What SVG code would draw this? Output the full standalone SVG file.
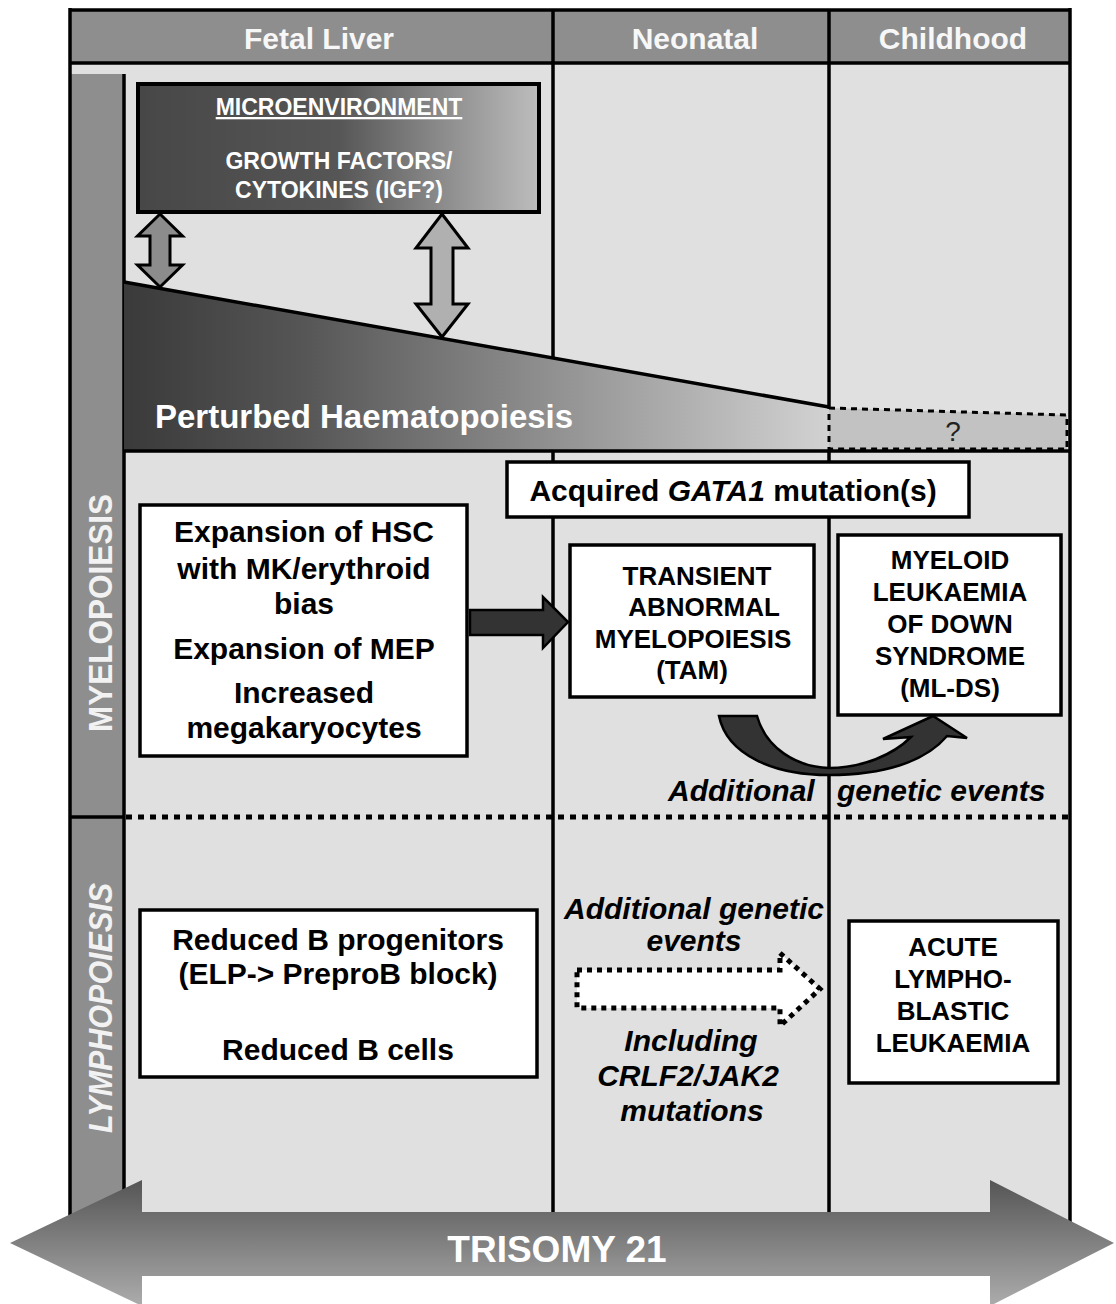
<svg xmlns="http://www.w3.org/2000/svg" width="1116" height="1304" viewBox="0 0 1116 1304">
<defs>
<linearGradient id="microGrad" gradientUnits="userSpaceOnUse" x1="138" y1="0" x2="539" y2="0">
<stop offset="0" stop-color="#474747"/><stop offset="0.5" stop-color="#565656"/><stop offset="1" stop-color="#bdbdbd"/>
</linearGradient>
<linearGradient id="triGrad" gradientUnits="userSpaceOnUse" x1="124" y1="0" x2="829" y2="0">
<stop offset="0" stop-color="#3a3a3a"/><stop offset="0.25" stop-color="#555555"/><stop offset="1" stop-color="#d2d2d2"/>
</linearGradient>
<linearGradient id="arrowGrad" gradientUnits="userSpaceOnUse" x1="0" y1="1180" x2="0" y2="1304">
<stop offset="0" stop-color="#555555"/><stop offset="1" stop-color="#ababab"/>
</linearGradient>
</defs>
<style>
text{font-family:"Liberation Sans",Arial,sans-serif;font-weight:bold}
.hdr{font-size:30px;fill:#f7f7f7;text-anchor:middle}
.side{font-size:33px;fill:#f2f2f2;text-anchor:middle}
.box{fill:#ffffff;stroke:#000;stroke-width:3.5}
.t30{font-size:30px;fill:#000;text-anchor:middle}
.t26{font-size:26px;fill:#000;text-anchor:middle}
.it{font-style:italic}
.wht{fill:#ffffff}
.grid{stroke:#000;stroke-width:3.5;fill:none}
.dark{fill:#333333;stroke:#000;stroke-width:2.5;stroke-linejoin:miter}
.dbl{stroke:#000;stroke-width:3;stroke-linejoin:miter}
</style>
<rect width="1116" height="1304" fill="#ffffff"/>
<g id="background">
<rect x="70" y="10" width="1000" height="53" fill="#8e8e8e"/>
<rect x="70" y="63" width="1000" height="1197" fill="#e0e0e0"/>
<rect x="70" y="74" width="54" height="1186" fill="#8e8e8e"/>
</g>
<g id="grid">
<line class="grid" x1="70" y1="10" x2="1070" y2="10"/>
<line class="grid" x1="70" y1="63" x2="1070" y2="63"/>
<line class="grid" x1="70" y1="8" x2="70" y2="1260"/>
<line class="grid" x1="1070" y1="8" x2="1070" y2="1260"/>
<line class="grid" x1="124" y1="74" x2="124" y2="1260"/>
<line class="grid" x1="553" y1="10" x2="553" y2="1260"/>
<line class="grid" x1="829" y1="10" x2="829" y2="1260"/>
<line class="grid" x1="70" y1="817" x2="124" y2="817"/>
<line x1="126" y1="817" x2="1070" y2="817" stroke="#000" stroke-width="5" stroke-dasharray="6 6"/>
</g>
<g id="perturbed">
<polygon points="124,282 829,407 829,451 124,451" fill="url(#triGrad)"/>
<line class="grid" x1="124" y1="282" x2="829" y2="407"/>
<polygon points="829,408 1067,415 1067,449 829,449" fill="#c2c2c2" stroke="#000" stroke-width="3" stroke-dasharray="6 5"/>
<text x="953" y="441" font-size="28" style="font-weight:normal" fill="#222" text-anchor="middle">?</text>
<line class="grid" x1="124" y1="451" x2="1070" y2="451"/>
<text x="155" y="428" font-size="33" class="wht">Perturbed Haematopoiesis</text>
</g>
<g id="connectors">
<polygon class="dbl" fill="#8c8c8c" points="160,214 182.5,236 170,236 170,265 182.5,265 160,287 137.5,265 150,265 150,236 137.5,236"/>
<polygon class="dbl" fill="#b0b0b0" points="442,214 468,248 453,248 453,304 468,304 442,337 416,304 431,304 431,248 416,248"/>
<polygon class="dark" points="470,610 543,610 543,597 568,622 543,648 543,635 470,635"/>
<path class="dark" d="M719,716 L757,716 C766,748 796,767 829,768 C862,768 893,755 911,737 L883,739 L933,716 L967,738 L947,736 C925,762 883,775 829,775 C774,775 727,755 719,716 Z"/>
<polygon points="577,970 780,970 780,953 820,989 780,1026 780,1008 577,1008" fill="#ffffff" stroke="#000" stroke-width="5" stroke-dasharray="5 5"/>
</g>
<g id="headers">
<text class="hdr" x="319" y="49">Fetal Liver</text>
<text class="hdr" x="695" y="49">Neonatal</text>
<text class="hdr" x="953" y="49">Childhood</text>
</g>
<g id="myelopoiesis-label">
<text class="side" transform="translate(112,613) rotate(-90)" textLength="238" lengthAdjust="spacingAndGlyphs">MYELOPOIESIS</text>
</g>
<g id="lymphopoiesis-label">
<text class="side it" transform="translate(112,1008) rotate(-90)" textLength="250" lengthAdjust="spacingAndGlyphs">LYMPHOPOIESIS</text>
</g>
<g id="microenvironment">
<rect x="138" y="84" width="401" height="128" fill="url(#microGrad)" stroke="#000" stroke-width="4"/>
<text x="339" y="115" font-size="23" class="wht" text-anchor="middle" text-decoration="underline">MICROENVIRONMENT</text>
<text x="339" y="169" font-size="23" class="wht" text-anchor="middle">GROWTH FACTORS/</text>
<text x="339" y="198" font-size="23" class="wht" text-anchor="middle">CYTOKINES (IGF?)</text>
</g>
<g id="gata1">
<rect class="box" x="507" y="462" width="462" height="55"/>
<text class="t30" x="733" y="501">Acquired <tspan class="it">GATA1</tspan> mutation(s)</text>
</g>
<g id="fetal-myelo">
<rect class="box" x="140" y="505" width="327" height="251"/>
<text class="t30" x="304" y="542">Expansion of HSC</text>
<text class="t30" x="304" y="579">with MK/erythroid</text>
<text class="t30" x="304" y="614">bias</text>
<text class="t30" x="304" y="659">Expansion of MEP</text>
<text class="t30" x="304" y="703">Increased</text>
<text class="t30" x="304" y="738">megakaryocytes</text>
</g>
<g id="tam">
<rect class="box" x="570" y="545" width="244" height="152"/>
<text class="t26" x="697" y="585">TRANSIENT</text>
<text class="t26" x="704" y="616">ABNORMAL</text>
<text class="t26" x="693" y="648">MYELOPOIESIS</text>
<text class="t26" x="692" y="679">(TAM)</text>
</g>
<g id="ml-ds">
<rect class="box" x="838" y="535" width="223" height="180"/>
<text class="t26" x="950" y="569">MYELOID</text>
<text class="t26" x="950" y="601">LEUKAEMIA</text>
<text class="t26" x="950" y="633">OF DOWN</text>
<text class="t26" x="950" y="665">SYNDROME</text>
<text class="t26" x="950" y="697">(ML-DS)</text>
</g>
<g id="myelo-events-label">
<text x="668" y="801" font-size="30" class="it"><tspan x="668">Additional</tspan><tspan x="837">genetic events</tspan></text>
</g>
<g id="fetal-lympho">
<rect class="box" x="140" y="910" width="397" height="167"/>
<text class="t30" x="338" y="950">Reduced B progenitors</text>
<text class="t30" x="338" y="984">(ELP-&gt; PreproB block)</text>
<text class="t30" x="338" y="1060">Reduced B cells</text>
</g>
<g id="lympho-events-label">
<text class="t30 it" x="694" y="919">Additional genetic</text>
<text class="t30 it" x="694" y="951">events</text>
<text class="t30 it" x="691" y="1051">Including</text>
<text class="t30 it" x="688" y="1086">CRLF2/JAK2</text>
<text class="t30 it" x="692" y="1121">mutations</text>
</g>
<g id="all">
<rect class="box" x="849" y="921" width="209" height="162"/>
<text class="t26" x="953" y="956">ACUTE</text>
<text class="t26" x="953" y="988">LYMPHO-</text>
<text class="t26" x="953" y="1020">BLASTIC</text>
<text class="t26" x="953" y="1052">LEUKAEMIA</text>
</g>
<g id="trisomy21">
<polygon points="10,1243 142,1180 142,1212 990,1212 990,1180 1114,1243 990,1306 990,1276 142,1276 142,1306" fill="url(#arrowGrad)"/>
<text x="557" y="1262" font-size="37" class="wht" text-anchor="middle">TRISOMY 21</text>
</g>
</svg>
